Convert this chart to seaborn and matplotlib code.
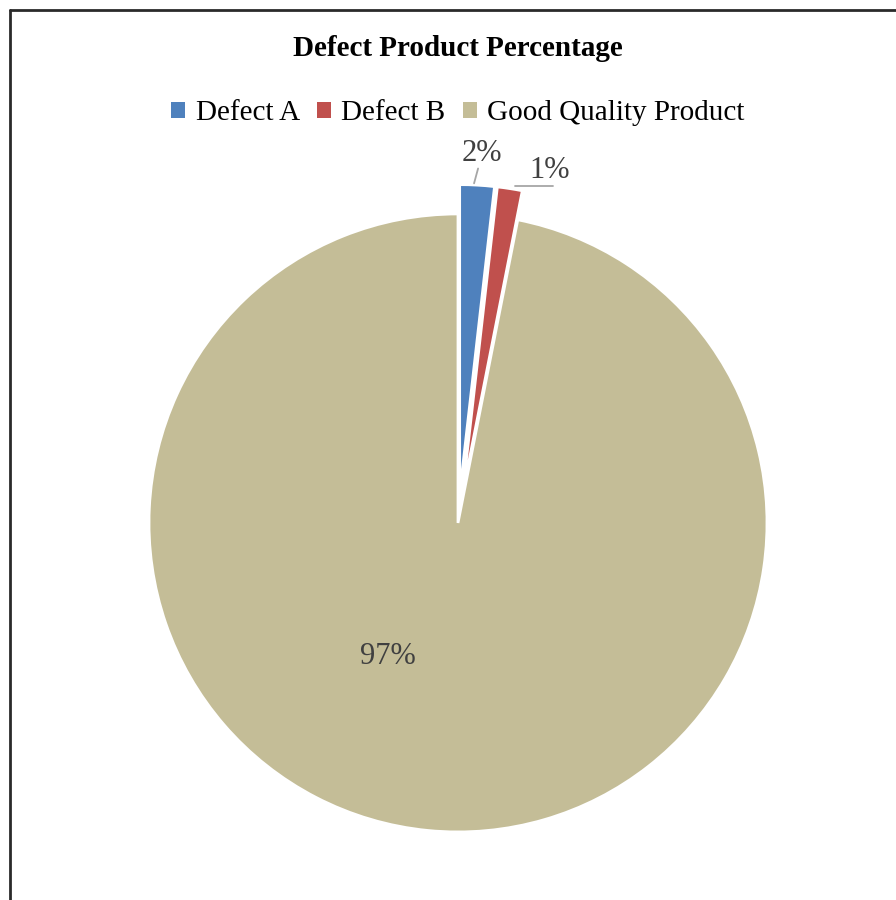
import matplotlib
matplotlib.use("Agg")
import matplotlib.pyplot as plt
import seaborn as sns
from matplotlib.lines import Line2D
from matplotlib.patches import Patch

# Data
CATEGORIES = ["Defect A", "Defect B", "Good Quality Product"]
SHARES = [1.8, 1.3, 96.9]
COLORS = ["#4F81BD", "#C0504D", "#C4BD97"]
EXPLODE = [0.095, 0.095, 0.0]
TITLE = "Defect Product Percentage"


def main() -> None:
    sns.set_theme(style="white")
    plt.rcParams["font.family"] = ["Liberation Serif", "DejaVu Serif"]
    text_color = "#404040"

    fig = plt.figure(figsize=(8.96, 9.0), dpi=100)
    # pie centre ~ (458, 523) px, radius ~ 309 px
    ax = fig.add_axes([0.0628, -0.0274, 0.8967, 0.8927])

    wedges, texts, autotexts = ax.pie(
        SHARES,
        colors=COLORS,
        explode=EXPLODE,
        startangle=90,
        counterclock=False,
        autopct=lambda p: f"{p:.0f}%",
        pctdistance=0.5,
        wedgeprops={"edgecolor": "white", "linewidth": 2},
        textprops={"fontsize": 22, "color": text_color},
    )
    ax.set_xlim(-1.3, 1.3)
    ax.set_ylim(-1.3, 1.3)
    ax.set_aspect("equal")
    ax.axis("off")

    # outside labels with leader lines for the two small slices
    autotexts[0].set_position((0.078, 1.196))
    autotexts[0].set_ha("center")
    autotexts[0].set_va("center")
    ax.plot([0.065, 0.052], [1.147, 1.099], color="#A6A6A6", lw=1.3)

    autotexts[1].set_position((0.298, 1.140))
    autotexts[1].set_ha("center")
    autotexts[1].set_va("center")
    ax.plot([0.184, 0.307], [1.091, 1.091], color="#A6A6A6", lw=1.3)

    autotexts[2].set_position((-0.227, -0.433))
    autotexts[2].set_ha("center")
    autotexts[2].set_va("center")

    fig.text(458 / 896, 1 - 49 / 900, TITLE, ha="center", va="center",
             fontsize=21, fontweight="bold", color="black")

    handles = [Patch(facecolor=c, edgecolor="none") for c in COLORS]
    fig.legend(handles, CATEGORIES, loc="center", ncol=3,
               bbox_to_anchor=(458 / 896, 1 - 113 / 900),
               frameon=False, fontsize=21, handlelength=0.48, handleheight=0.48,
               handletextpad=0.35, columnspacing=0.6, labelcolor="black")

    # outer frame: only left and top edges are visible in the reference
    fig.add_artist(Line2D([9.5 / 896, 9.5 / 896], [0, 1 - 9.5 / 900],
                          transform=fig.transFigure, color="#2a2a2a", lw=2.0))
    fig.add_artist(Line2D([9.5 / 896, 1], [1 - 9.5 / 900, 1 - 9.5 / 900],
                          transform=fig.transFigure, color="#2a2a2a", lw=2.0))

    fig.savefig("out.png", dpi=100)


if __name__ == "__main__":
    main()
